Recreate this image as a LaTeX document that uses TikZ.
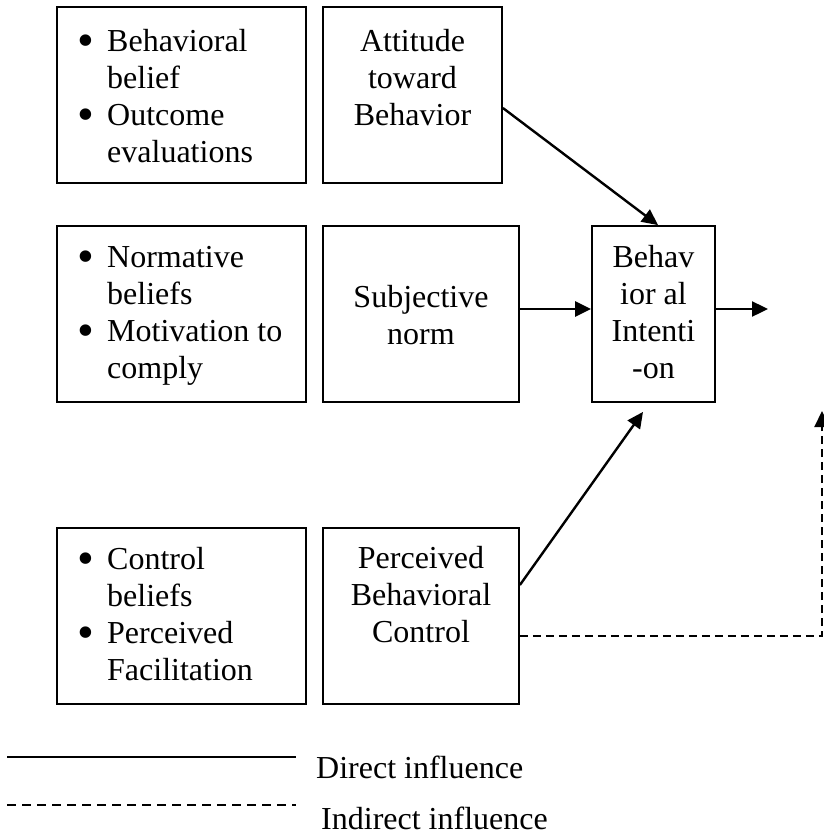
\documentclass[tikz,border=0pt]{standalone}
\usepackage{fontspec}
\setmainfont{Liberation Serif}
\usetikzlibrary{arrows.meta}
\newcommand\bitem{\makebox[29pt][l]{\hspace*{-1pt}\raisebox{-5.5pt}{\scalebox{1.5}{\textbullet}}}}
\newcommand\bcont{\hspace*{29pt}}
\begin{document}
\begin{tikzpicture}[x=1pt,y=-1pt,
  box/.style={draw, line width=1.8pt, inner sep=0pt, minimum height=176pt},
  txt/.style={inner sep=0pt, font=\fontsize{32}{37}\selectfont},
  conn/.style={line width=2.4pt, -{Triangle[length=16pt,width=15pt]}},
  dconn/.style={line width=2.2pt, dash pattern=on 8pt off 5pt, -{Triangle[length=16pt,width=15pt]}},
  legline/.style={line width=2.2pt},
  legdash/.style={line width=1.8pt, dash pattern=on 9pt off 6pt}]
\useasboundingbox (0,0) rectangle (824,836);

% boxes
\node[box, minimum width=249pt] (bel1) at (181.5,95) {};
\node[box, minimum width=179pt] (att) at (412.5,95) {};
\node[box, minimum width=249pt] (bel2) at (181.5,314) {};
\node[box, minimum width=196pt] (sub) at (421,314) {};
\node[box, minimum width=123pt] (int) at (653.5,314) {};
\node[box, minimum width=249pt] (bel3) at (181.5,616) {};
\node[box, minimum width=196pt] (pbc) at (421,616) {};

% texts
\node[txt, anchor=north west, align=left] (bel1t) at (78,29)
  {\bitem Behavioral\\\bcont belief\\\bitem Outcome\\\bcont evaluations};
\node[txt, anchor=north, align=center] (attt) at (412.5,29)
  {Attitude\\toward\\Behavior};
\node[txt, anchor=north west, align=left] (bel2t) at (78,246)
  {\bitem Normative\\\bcont beliefs\\\bitem Motivation to\\\bcont comply};
\node[txt, anchor=north, align=center] (subt) at (421,285)
  {Subjective\\norm};
\node[txt, anchor=north, align=center] (intt) at (653.5,245)
  {Behav\\ior al\\Intenti\\-on};
\node[txt, anchor=north west, align=left] (bel3t) at (78,547)
  {\bitem Control\\\bcont beliefs\\\bitem Perceived\\\bcont Facilitation};
\node[txt, anchor=north, align=center] (pbct) at (421,546)
  {Perceived\\Behavioral\\Control};

% connectors
\coordinate (out) at (768,309);
\coordinate (dtip) at (822,411);
\draw[conn] ([yshift=-13pt]att.east) -- ([xshift=4.5pt]int.north);
\draw[conn] ([yshift=5pt]sub.east) -- ([yshift=5pt]int.west);
\draw[conn] ([yshift=5pt]int.east) -- (out);
\draw[conn] ([yshift=31pt]pbc.east) -- ([xshift=-10.5pt,yshift=-9pt]int.south);
\draw[dconn] ([yshift=-20pt]pbc.east) -| (dtip);

% legend
\coordinate (la) at (7,757);
\coordinate (lb) at (296,757);
\coordinate (lc) at (7,805);
\coordinate (ld) at (296,805);
\draw[legline] (la) -- (lb);
\draw[legdash] (lc) -- (ld);
\node[txt, anchor=base west] (ldir) at (316,778) {Direct influence};
\node[txt, anchor=base west] (lind) at (321,829) {Indirect influence};
\end{tikzpicture}
\end{document}
